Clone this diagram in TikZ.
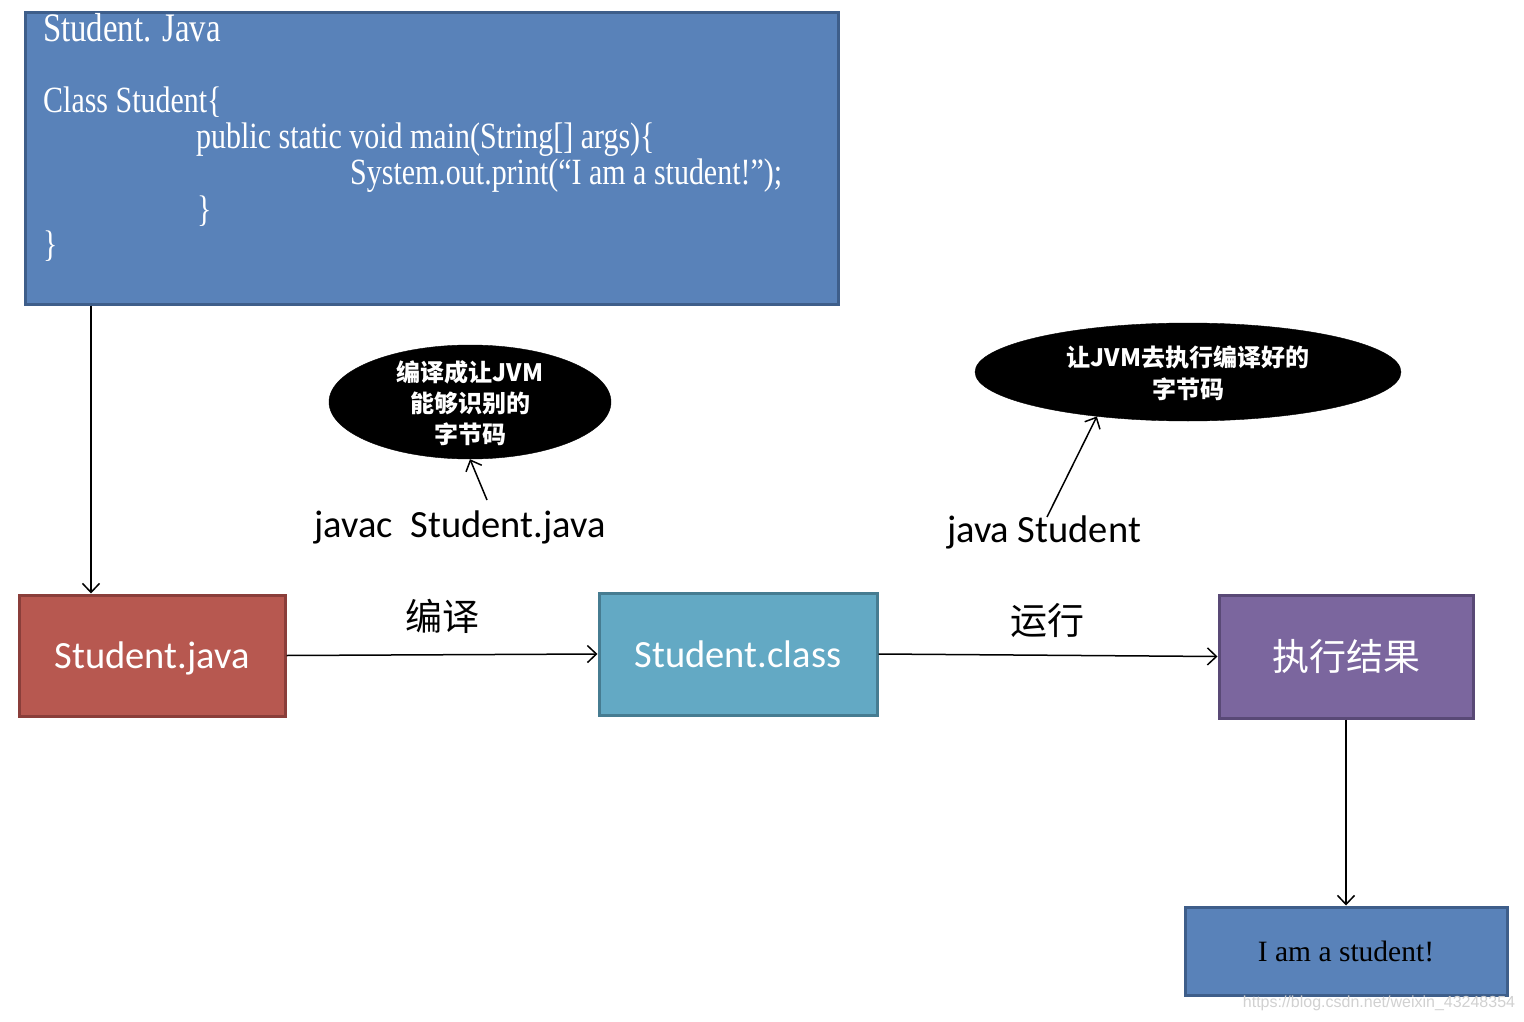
\documentclass[tikz,border=0pt]{standalone}
\usepackage{fontspec}
\setmainfont{Liberation Serif}
\newfontfamily\codefont{Liberation Serif}[FakeStretch=0.81]
\newfontfamily\calfont{Carlito}
\newfontfamily\cjkfont{Noto Sans CJK SC}
\newfontfamily\wmfont{Liberation Sans}
\usetikzlibrary{shapes.geometric,arrows.meta}
\definecolor{codeblue}{RGB}{89,130,185}
\definecolor{codebluel}{RGB}{62,94,138}
\definecolor{redfill}{RGB}{183,88,80}
\definecolor{redline}{RGB}{138,62,58}
\definecolor{cyanfill}{RGB}{99,169,196}
\definecolor{cyanline}{RGB}{70,124,145}
\definecolor{purplefill}{RGB}{123,102,158}
\definecolor{purpleline}{RGB}{89,73,118}
\begin{document}
\begin{tikzpicture}[x=1pt,y=-1pt,
  box/.style={rectangle, line width=3pt, inner sep=0pt, text=white},
  codeline/.style={anchor=base west, inner sep=0pt, text=white, font=\codefont\fontsize{37}{37}\selectfont},
  bubble/.style={ellipse, fill=black, draw=black, inner sep=0pt},
  bubbletext/.style={align=center, text=white, inner sep=0pt},
  lbl/.style={inner sep=0pt, text=black},
  calf/.style={font=\calfont\fontsize{38.5}{38.5}\selectfont},
  arr/.style={-{Straight Barb[length=9pt,width=17pt]}, line width=1.5pt, black},
]
\fill[white] (0,0) rectangle (1524,1022);
\useasboundingbox (0,0) rectangle (1524,1022);

% code box
\node[box, fill=codeblue, draw=codebluel, minimum width=813pt, minimum height=291pt] (code) at (431.5,158.5) {};
\node[codeline, font=\codefont\fontsize{40.5}{40.5}\selectfont] (c1) at (43,42) {Student. Java};
\node[codeline] (c2) at (43,113) {Class Student\{};
\node[codeline] (c3) at (196,149) {public static void main(String[] args)\{};
\node[codeline] (c4) at (350,185) {System.out.print(“I am a student!”);};
\node[codeline] (c5) at (197,221) {\}};
\node[codeline] (c6) at (43,256) {\}};

% main boxes
\node[box, fill=redfill, draw=redline, minimum width=266pt, minimum height=121pt,
      calf, text depth=0pt] (sj) at (152,655.5) {Student.java};
\node[box, fill=cyanfill, draw=cyanline, minimum width=278pt, minimum height=122pt,
      calf] (sc) at (738,654) {Student.class};
\node[box, fill=purplefill, draw=purpleline, minimum width=254pt, minimum height=123pt,
      font=\cjkfont\fontsize{37}{37}\selectfont] (res) at (1346,656.5) {执行结果};
\node[box, fill=codeblue, draw=codebluel, minimum width=322pt, minimum height=88pt, text=black,
      font=\fontsize{29.5}{29.5}\selectfont] (out) at (1346,951) {I am a student!};

% bubbles
\node[bubble, minimum width=282pt, minimum height=114pt] (e1) at (470,402) {};
\node[bubbletext, font=\cjkfont\bfseries\fontsize{24}{31}\selectfont] (e1t) at (470,403) {编译成让JVM\\能够识别的\\字节码};
\node[bubble, minimum width=426pt, minimum height=98pt] (e2) at (1188,372) {};
\node[bubbletext, font=\cjkfont\bfseries\fontsize{24}{32}\selectfont] (e2t) at (1188,373) {让JVM去执行编译好的\\字节码};

% labels
\node[lbl, calf, text depth=0pt] (jc) at (460,524) {javac\ \ Student.java};
\node[lbl, calf, text depth=0pt] (jr) at (1044,529) {java Student};
\node[lbl, font=\cjkfont\fontsize{37}{37}\selectfont] (l1) at (442,616) {编译};
\node[lbl, font=\cjkfont\fontsize{37}{37}\selectfont] (l2) at (1047,620) {运行};

% connectors
\coordinate (jcTip) at (487,500);
\coordinate (jrTip) at (1047,517);
\draw[arr] (jcTip) -- (e1.south);
\draw[arr] (jrTip) -- (e2.206);
\draw[arr] (code.south west -| 91,0) -- (sj.north west -| 91,0);
\draw[arr] (sj.east) -- (sc.west);
\draw[arr] (sc.east) -- (res.west);
\draw[arr] (res.south) -- (out.north);

% watermark
\node[lbl, text=black!18, font=\wmfont\fontsize{16}{16}\selectfont] (wm) at (1379,1003) {https://blog.csdn.net/weixin\_43248354};
\end{tikzpicture}
\end{document}
